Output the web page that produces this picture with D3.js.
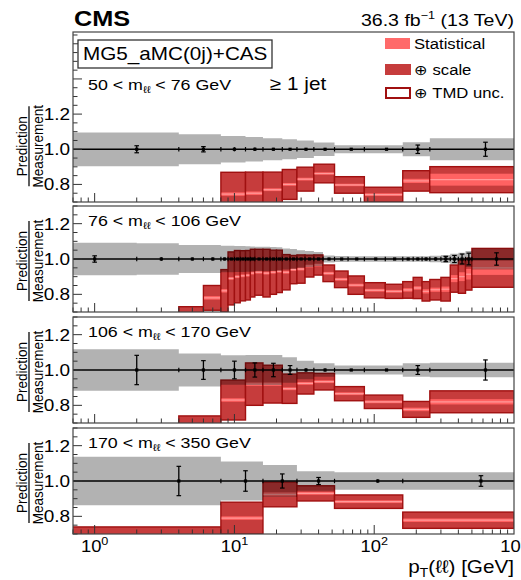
<!DOCTYPE html>
<html><head><meta charset="utf-8">
<script src="https://cdn.jsdelivr.net/npm/d3@7"></script>
<style>body{margin:0;background:#fff}svg{display:block}text{font-family:"Liberation Sans",Arial,Helvetica,sans-serif;fill:#000}</style>
</head><body><svg id="c" width="521" height="580"></svg>
<script>
// ---------- DATA ----------
const massLabels = [["50", "76"], ["76", "106"], ["106", "170"], ["170", "350"]];
const yTickLabels = [0.8, 1.0, 1.2];
const xTickDecades = [0, 1, 2, 3];

// Panel 1: 50 < mll < 76 GeV
const edges1 = [0, 4, 8, 12, 16, 22, 28, 37, 52, 85, 160, 250, 1000];
const measUnc1 = [0.096, 0.085, 0.075, 0.07, 0.063, 0.057, 0.05, 0.038, 0.023, 0.023, 0.04, 0.063];
const dataErr1 = [0.02, 0.015, 0.012, 0.01, 0.008, 0.006, 0.006, 0.006, 0.006, 0.006, 0.024, 0.04];
const pred1 = [null, null, 0.745, 0.75, 0.77, 0.80, 0.83, 0.862, 0.797, 0.742, 0.82, 0.827];
const tmd1 = [0, 0, 0.124, 0.12, 0.10, 0.085, 0.068, 0.053, 0.047, 0.042, 0.058, 0.074];
const stat1 = [0, 0, 0.01, 0.01, 0.008, 0.008, 0.008, 0.007, 0.007, 0.008, 0.012, 0.034];

// Panel 2: 76 < mll < 106 GeV
const edges2 = [0, 2, 4, 6, 8, 9, 10, 11, 12, 13, 14, 16, 18, 20, 22, 25, 28, 32, 37, 43, 52, 65, 85, 120, 160, 190, 220, 250, 300, 350, 400, 450, 500, 1000];
const measUnc2 = [0.092, 0.089, 0.079, 0.079, 0.075, 0.075, 0.074, 0.073, 0.072, 0.071, 0.07, 0.07, 0.068, 0.066, 0.06, 0.057, 0.05, 0.045, 0.04, 0.02, 0.017, 0.015, 0.015, 0.015, 0.015, 0.015, 0.015, 0.018, 0.022, 0.03, 0.035, 0.045, 0.06];
const dataErr2 = [0.018, 0.01, 0.008, 0.008, 0.008, 0.006, 0.006, 0.006, 0.006, 0.006, 0.005, 0.005, 0.005, 0.005, 0.005, 0.005, 0.005, 0.005, 0.005, 0.005, 0.005, 0.005, 0.005, 0.005, 0.006, 0.007, 0.008, 0.01, 0.015, 0.02, 0.028, 0.033, 0.035];
const pred2 = [null, null, 0.66, 0.78, 0.82, 0.89, 0.90, 0.905, 0.908, 0.92, 0.925, 0.92, 0.925, 0.93, 0.925, 0.94, 0.943, 0.96, 0.966, 0.919, 0.885, 0.852, 0.823, 0.817, 0.825, 0.836, 0.817, 0.826, 0.829, 0.889, 0.90, 0.914, 0.95];
const tmd2 = [0, 0, 0.07, 0.07, 0.12, 0.15, 0.148, 0.142, 0.14, 0.135, 0.13, 0.135, 0.125, 0.12, 0.10, 0.08, 0.08, 0.062, 0.057, 0.047, 0.047, 0.052, 0.043, 0.04, 0.047, 0.06, 0.055, 0.058, 0.067, 0.077, 0.094, 0.09, 0.11];
const stat2 = [0, 0, 0.01, 0.01, 0.01, 0.008, 0.008, 0.008, 0.008, 0.008, 0.008, 0.008, 0.008, 0.008, 0.008, 0.008, 0.008, 0.008, 0.008, 0.008, 0.008, 0.008, 0.008, 0.008, 0.01, 0.01, 0.012, 0.012, 0.015, 0.02, 0.025, 0.03, 0.04];

// Panel 3: 106 < mll < 170 GeV
const edges3 = [0, 4, 8, 12, 16, 22, 28, 37, 52, 85, 160, 250, 1000];
const measUnc3 = [0.117, 0.094, 0.083, 0.085, 0.085, 0.072, 0.053, 0.038, 0.025, 0.025, 0.038, 0.041];
const dataErr3 = [0.083, 0.053, 0.05, 0.04, 0.038, 0.025, 0.01, 0.008, 0.006, 0.006, 0.025, 0.057];
const pred3 = [null, 0.66, 0.83, 0.92, 0.92, 0.894, 0.924, 0.934, 0.866, 0.82, 0.777, 0.82];
const tmd3 = [0, 0.08, 0.113, 0.12, 0.107, 0.083, 0.06, 0.047, 0.04, 0.038, 0.045, 0.062];
const stat3 = [0, 0.01, 0.01, 0.01, 0.01, 0.008, 0.008, 0.008, 0.008, 0.008, 0.01, 0.015];

// Panel 4: 170 < mll < 350 GeV
const edges4 = [0, 8, 16, 28, 52, 160, 1000];
const measUnc4 = [0.137, 0.11, 0.09, 0.055, 0.05, 0.05];
const dataErr4 = [0.083, 0.058, 0.04, 0.02, 0.01, 0.03];
const pred4 = [0.68, 0.79, 0.924, 0.93, 0.883, 0.778];
const tmd4 = [0.06, 0.09, 0.07, 0.043, 0.038, 0.046];
const stat4 = [0.008, 0.01, 0.012, 0.008, 0.008, 0.01];

// ---------- DRAWING ----------
const W = 521, H = 580, SX = 1.15;
const svg = d3.select("#c");
svg.append("rect").attr("width", W).attr("height", H).attr("fill", "#fff");
const xL = 73, xR = 514;
const x = d3.scaleLog().domain([0.7, 1000]).range([xL, xR]);
const xe = v => x(Math.max(v, 0.5));

const C_SCALE = "#c63c3c", C_STAT = "#ff6262", C_LINE = "#ff9a9a", C_TMD = "#a01010";

function txt(g, tx, ty, size, anchor, weight) {
  const t = g.append("text").attr("transform", `translate(${tx},${ty}) scale(${SX},1)`)
    .attr("font-size", size).attr("text-anchor", anchor || "start");
  if (weight) t.attr("font-weight", weight);
  return t;
}

const panels = [
  {edges: edges1, meas: measUnc1, err: dataErr1, pred: pred1, tmd: tmd1, stat: stat1, top: 32, bottom: 202, ymax: 1.667},
  {edges: edges2, meas: measUnc2, err: dataErr2, pred: pred2, tmd: tmd2, stat: stat2, top: 206, bottom: 312, ymax: 1.3},
  {edges: edges3, meas: measUnc3, err: dataErr3, pred: pred3, tmd: tmd3, stat: stat3, top: 317, bottom: 423, ymax: 1.3},
  {edges: edges4, meas: measUnc4, err: dataErr4, pred: pred4, tmd: tmd4, stat: stat4, top: 428, bottom: 534, ymax: 1.3}
];

panels.forEach((p, pi) => {
  const y = d3.scaleLinear().domain([0.7, p.ymax]).range([p.bottom, p.top]);
  const g = svg.append("g");
  const cid = "clip" + pi;
  svg.append("clipPath").attr("id", cid).append("rect")
    .attr("x", xL).attr("y", p.top).attr("width", xR - xL).attr("height", p.bottom - p.top);
  const gc = g.append("g").attr("clip-path", `url(#${cid})`);
  const nb = p.edges.length - 1;
  const bins = d3.range(nb).map(i => ({
    lo: p.edges[i], hi: p.edges[i + 1], meas: p.meas[i], err: p.err[i],
    pred: p.pred[i], tmd: p.tmd[i], stat: p.stat[i]
  }));
  // prediction boxes
  bins.filter(b => b.pred !== null).forEach(b => {
    const x0 = xe(b.lo), x1 = xe(b.hi);
    gc.append("rect").attr("x", x0).attr("width", x1 - x0)
      .attr("y", y(b.pred + b.tmd)).attr("height", y(b.pred - b.tmd) - y(b.pred + b.tmd))
      .attr("fill", C_SCALE).attr("stroke", C_TMD).attr("stroke-width", 1.4);
    gc.append("rect").attr("x", x0 + 0.7).attr("width", x1 - x0 - 1.4)
      .attr("y", y(b.pred + b.stat)).attr("height", y(b.pred - b.stat) - y(b.pred + b.stat))
      .attr("fill", C_STAT);
    gc.append("line").attr("x1", x0 + 0.7).attr("x2", x1 - 0.7)
      .attr("y1", y(b.pred)).attr("y2", y(b.pred)).attr("stroke", C_LINE).attr("stroke-width", 1.2);
  });
  // measurement uncertainty band
  const pts = bins.map(b => ({v: b.lo, u: b.meas}));
  pts.push({v: p.edges[nb], u: p.meas[nb - 1]});
  gc.append("path").datum(pts)
    .attr("d", d3.area().x(d => xe(d.v)).y0(d => y(1 - d.u)).y1(d => y(1 + d.u)).curve(d3.curveStepAfter))
    .attr("fill", "#000").attr("fill-opacity", 0.3);
  // unity line
  gc.append("line").attr("x1", xL).attr("x2", xR).attr("y1", y(1)).attr("y2", y(1))
    .attr("stroke", "#000").attr("stroke-width", 1.5);
  // bin edge ticks
  p.edges.filter(e => e > 0.7 && e < 1000).forEach(e => {
    gc.append("line").attr("x1", x(e)).attr("x2", x(e)).attr("y1", y(1) - 2.2).attr("y2", y(1) + 2.2)
      .attr("stroke", "#000").attr("stroke-width", 1.2);
  });
  // data points
  bins.forEach(b => {
    const cx = x((b.lo + b.hi) / 2);
    const ya = y(1 + b.err), yb = y(1 - b.err);
    gc.append("line").attr("x1", cx).attr("x2", cx).attr("y1", ya).attr("y2", yb)
      .attr("stroke", "#000").attr("stroke-width", 1.3);
    if (yb - ya > 5) {
      [ya, yb].forEach(yy => gc.append("line").attr("x1", cx - 2.3).attr("x2", cx + 2.3)
        .attr("y1", yy).attr("y2", yy).attr("stroke", "#000").attr("stroke-width", 1.2));
    }
    gc.append("rect").attr("x", cx - 1.6).attr("y", y(1) - 1.6).attr("width", 3.2).attr("height", 3.2).attr("fill", "#000");
  });
  // y ticks
  const ax = g.append("g").attr("stroke", "#333").attr("stroke-width", 1);
  for (let k = 14; k * 0.05 <= p.ymax + 1e-6; k++) {
    const v = k * 0.05, major = (k % 4 === 0);
    ax.append("line").attr("x1", xL).attr("x2", xL + (major ? 9 : 4.5)).attr("y1", y(v)).attr("y2", y(v));
  }
  // x ticks
  xTickDecades.concat([-1]).forEach(d => {
    for (let m = 1; m <= 9; m++) {
      const v = m * Math.pow(10, d);
      if (v <= 0.7 || v >= 1000) continue;
      ax.append("line").attr("x1", x(v)).attr("x2", x(v)).attr("y1", p.bottom).attr("y2", p.bottom - (m === 1 ? 9 : 4.5));
    }
  });
  // frame
  g.append("rect").attr("x", xL).attr("y", p.top).attr("width", xR - xL).attr("height", p.bottom - p.top)
    .attr("fill", "none").attr("stroke", "#444").attr("stroke-width", 1.2);
  // y tick labels
  yTickLabels.forEach(v => {
    txt(g, 70, y(v), 16.5, "end").attr("dy", "0.36em").text(v.toFixed(1));
  });
  // y axis title
  const yl = g.append("g").attr("transform", `translate(29,${y(1) + (pi === 0 ? -3 : 2)}) rotate(-90) scale(1,${SX})`);
  yl.append("text").attr("x", 0).attr("y", -2).attr("text-anchor", "middle").attr("font-size", 13.5).text("Prediction");
  yl.append("line").attr("x1", -40).attr("x2", 40).attr("y1", 0).attr("y2", 0).attr("stroke", "#000").attr("stroke-width", 1.1);
  yl.append("text").attr("x", 0).attr("y", 12).attr("text-anchor", "middle").attr("font-size", 13.5).text("Measurement");
  // mass label
  const ml = txt(g, 88, pi === 0 ? 90 : p.top + 20, 15.5, "start");
  ml.append("tspan").text(massLabels[pi][0] + " < m");
  ml.append("tspan").attr("font-size", 10).attr("dy", 3).text("ℓℓ");
  ml.append("tspan").attr("dy", -3).text(" < " + massLabels[pi][1] + " GeV");
  // x tick labels on bottom panel
  if (pi === panels.length - 1) {
    xTickDecades.forEach(d => {
      const t = txt(g, x(Math.pow(10, d)), 552, 16, "middle");
      t.append("tspan").text("10");
      t.append("tspan").attr("font-size", 11).attr("dy", -7).text(String(d));
    });
    const xt = txt(g, xR, 573, 18, "end");
    xt.append("tspan").text("p");
    xt.append("tspan").attr("font-size", 12).attr("dy", 4).text("T");
    xt.append("tspan").attr("dy", -4).text("(ℓℓ) [GeV]");
  }
});

// header
txt(svg, 74, 26, 22, "start", "bold").text("CMS");
const lum = txt(svg, 514, 26, 17, "end");
lum.append("tspan").text("36.3 fb");
lum.append("tspan").attr("font-size", 11).attr("dy", -7).text("−1");
lum.append("tspan").attr("dy", 7).text(" (13 TeV)");

// model box
svg.append("rect").attr("x", 78).attr("y", 40).attr("width", 194).attr("height", 28)
  .attr("fill", "#fff").attr("stroke", "#333").attr("stroke-width", 1.3);
txt(svg, 83, 60, 18, "start").text("MG5_aMC(0j)+CAS");
txt(svg, 270, 90, 18, "start").text("≥ 1 jet");

// legend
svg.append("rect").attr("x", 385).attr("y", 38).attr("width", 25).attr("height", 11).attr("fill", "#ff6a6a");
txt(svg, 414, 49, 14.5, "start").text("Statistical");
svg.append("rect").attr("x", 385).attr("y", 64).attr("width", 26).attr("height", 11).attr("fill", C_SCALE);
txt(svg, 414, 75, 14.5, "start").text("⊕ scale");
svg.append("rect").attr("x", 386).attr("y", 88).attr("width", 24).attr("height", 10)
  .attr("fill", "#fff").attr("stroke", C_TMD).attr("stroke-width", 2);
txt(svg, 414, 98, 14.5, "start").text("⊕ TMD unc.");
</script></body></html>
